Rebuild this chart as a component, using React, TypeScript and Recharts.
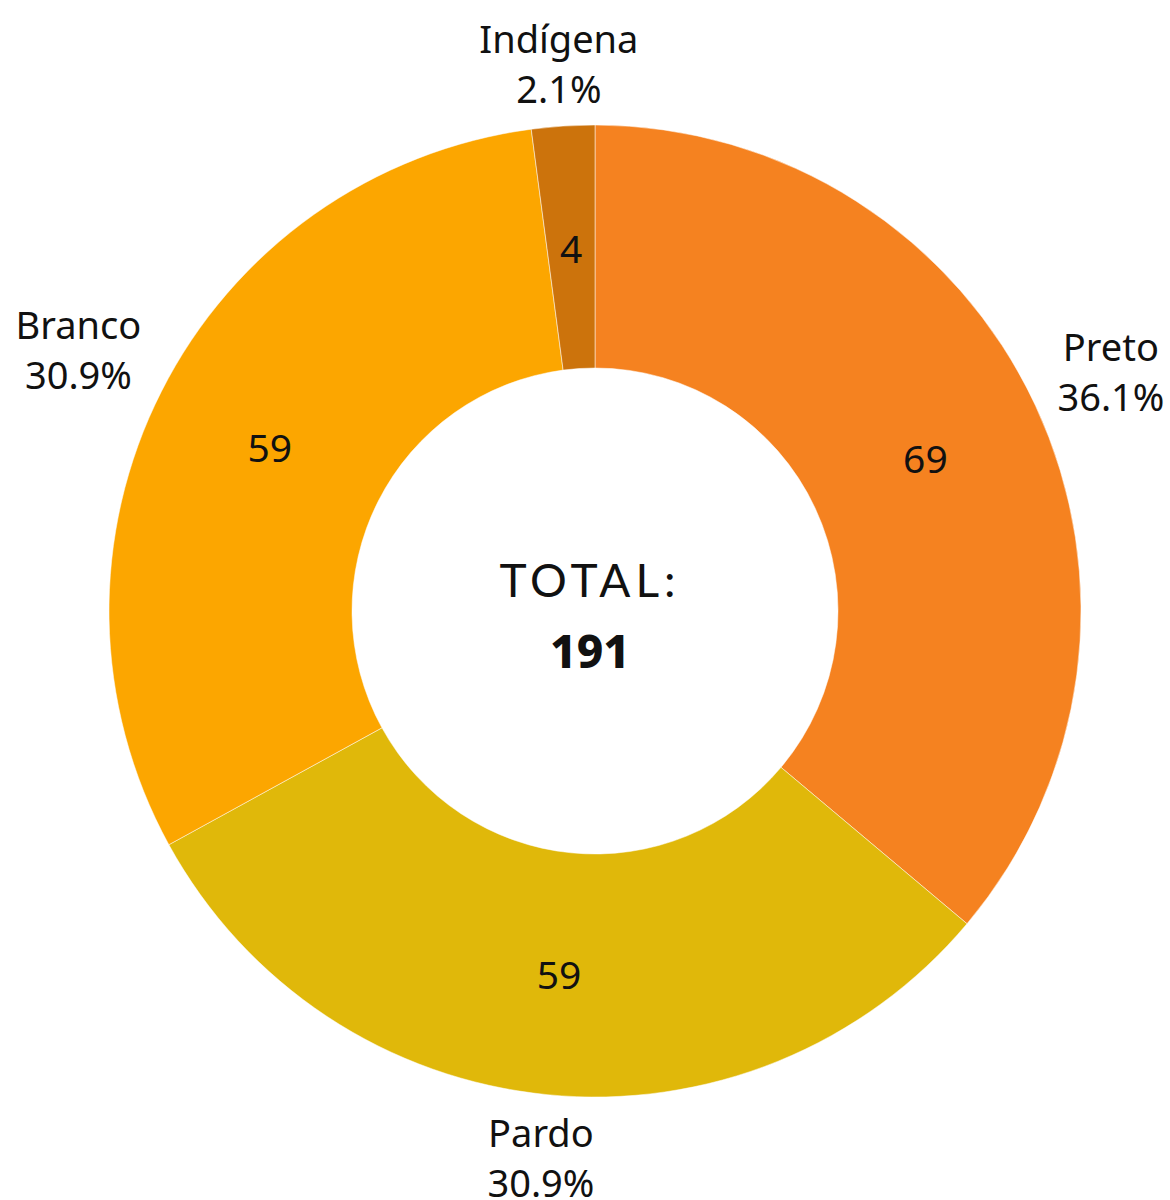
import { PieChart, Pie, Cell } from "recharts";

const categories = ["Preto", "Pardo", "Branco", "Indígena"];
const values = [69, 59, 59, 4];
const colors = ["#F58220", "#E0B80A", "#FCA600", "#CC730C"];
const totalLabel = "TOTAL:";

const data = categories.map((name, i) => ({ name, value: values[i] }));
const total = values.reduce((a, b) => a + b, 0);

const RAD = Math.PI / 180;
const FONT = "'Noto Sans', 'Open Sans', sans-serif";

function renderLabel(props: any) {
  const { cx, cy, midAngle, innerRadius, outerRadius, value, name } = props;
  const cos = Math.cos(-midAngle * RAD);
  const sin = Math.sin(-midAngle * RAD);

  // value inside the ring
  const rIn = (innerRadius + outerRadius) / 2;
  const vx = cx + rIn * cos;
  const vy = cy + rIn * sin;

  // name + percent outside, pushed out by the size of the label box
  const pct = ((value / total) * 100).toFixed(1) + "%";
  const fs = 38;
  const w = Math.max(name.length, pct.length) * fs * 0.56;
  const h = 80;
  const rOut = outerRadius + 18 + Math.abs(cos) * (w / 2) + Math.abs(sin) * (h / 2);
  const ox = cx + rOut * cos;
  const oy = cy + rOut * sin;

  return (
    <g>
      <text x={vx} y={vy} textAnchor="middle" dominantBaseline="central" fill="#111" fontSize={39} fontFamily={FONT}>
        {value}
      </text>
      <text x={ox} y={oy - 25} textAnchor="middle" dominantBaseline="central" fill="#111" fontSize={fs} fontFamily={FONT}>
        {name}
      </text>
      <text x={ox} y={oy + 25} textAnchor="middle" dominantBaseline="central" fill="#111" fontSize={fs} fontFamily={FONT}>
        {pct}
      </text>
    </g>
  );
}

export default function App() {
  return (
    <div style={{ position: "absolute", left: 0, top: 0, width: 1170, height: 1200, background: "#fff" }}>
      <PieChart width={1170} height={1200} margin={{ top: 0, right: 0, bottom: 0, left: 0 }}>
        <Pie
          data={data}
          dataKey="value"
          nameKey="name"
          cx={595}
          cy={611}
          innerRadius={243}
          outerRadius={486}
          startAngle={90}
          endAngle={-270}
          stroke="#ffffff"
          strokeWidth={0.5}
          label={renderLabel}
          labelLine={false}
          isAnimationActive={false}
        >
          {data.map((d, i) => (
            <Cell key={d.name} fill={colors[i]} />
          ))}
        </Pie>
        <text x={590} y={579} textAnchor="middle" dominantBaseline="central" fill="#111" fontSize={46} fontFamily="Lato, sans-serif" letterSpacing={5}>
          {totalLabel}
        </text>
        <text x={590} y={650} textAnchor="middle" dominantBaseline="central" fill="#111" fontSize={46} fontWeight={800} fontFamily={FONT}>
          {total}
        </text>
      </PieChart>
    </div>
  );
}
